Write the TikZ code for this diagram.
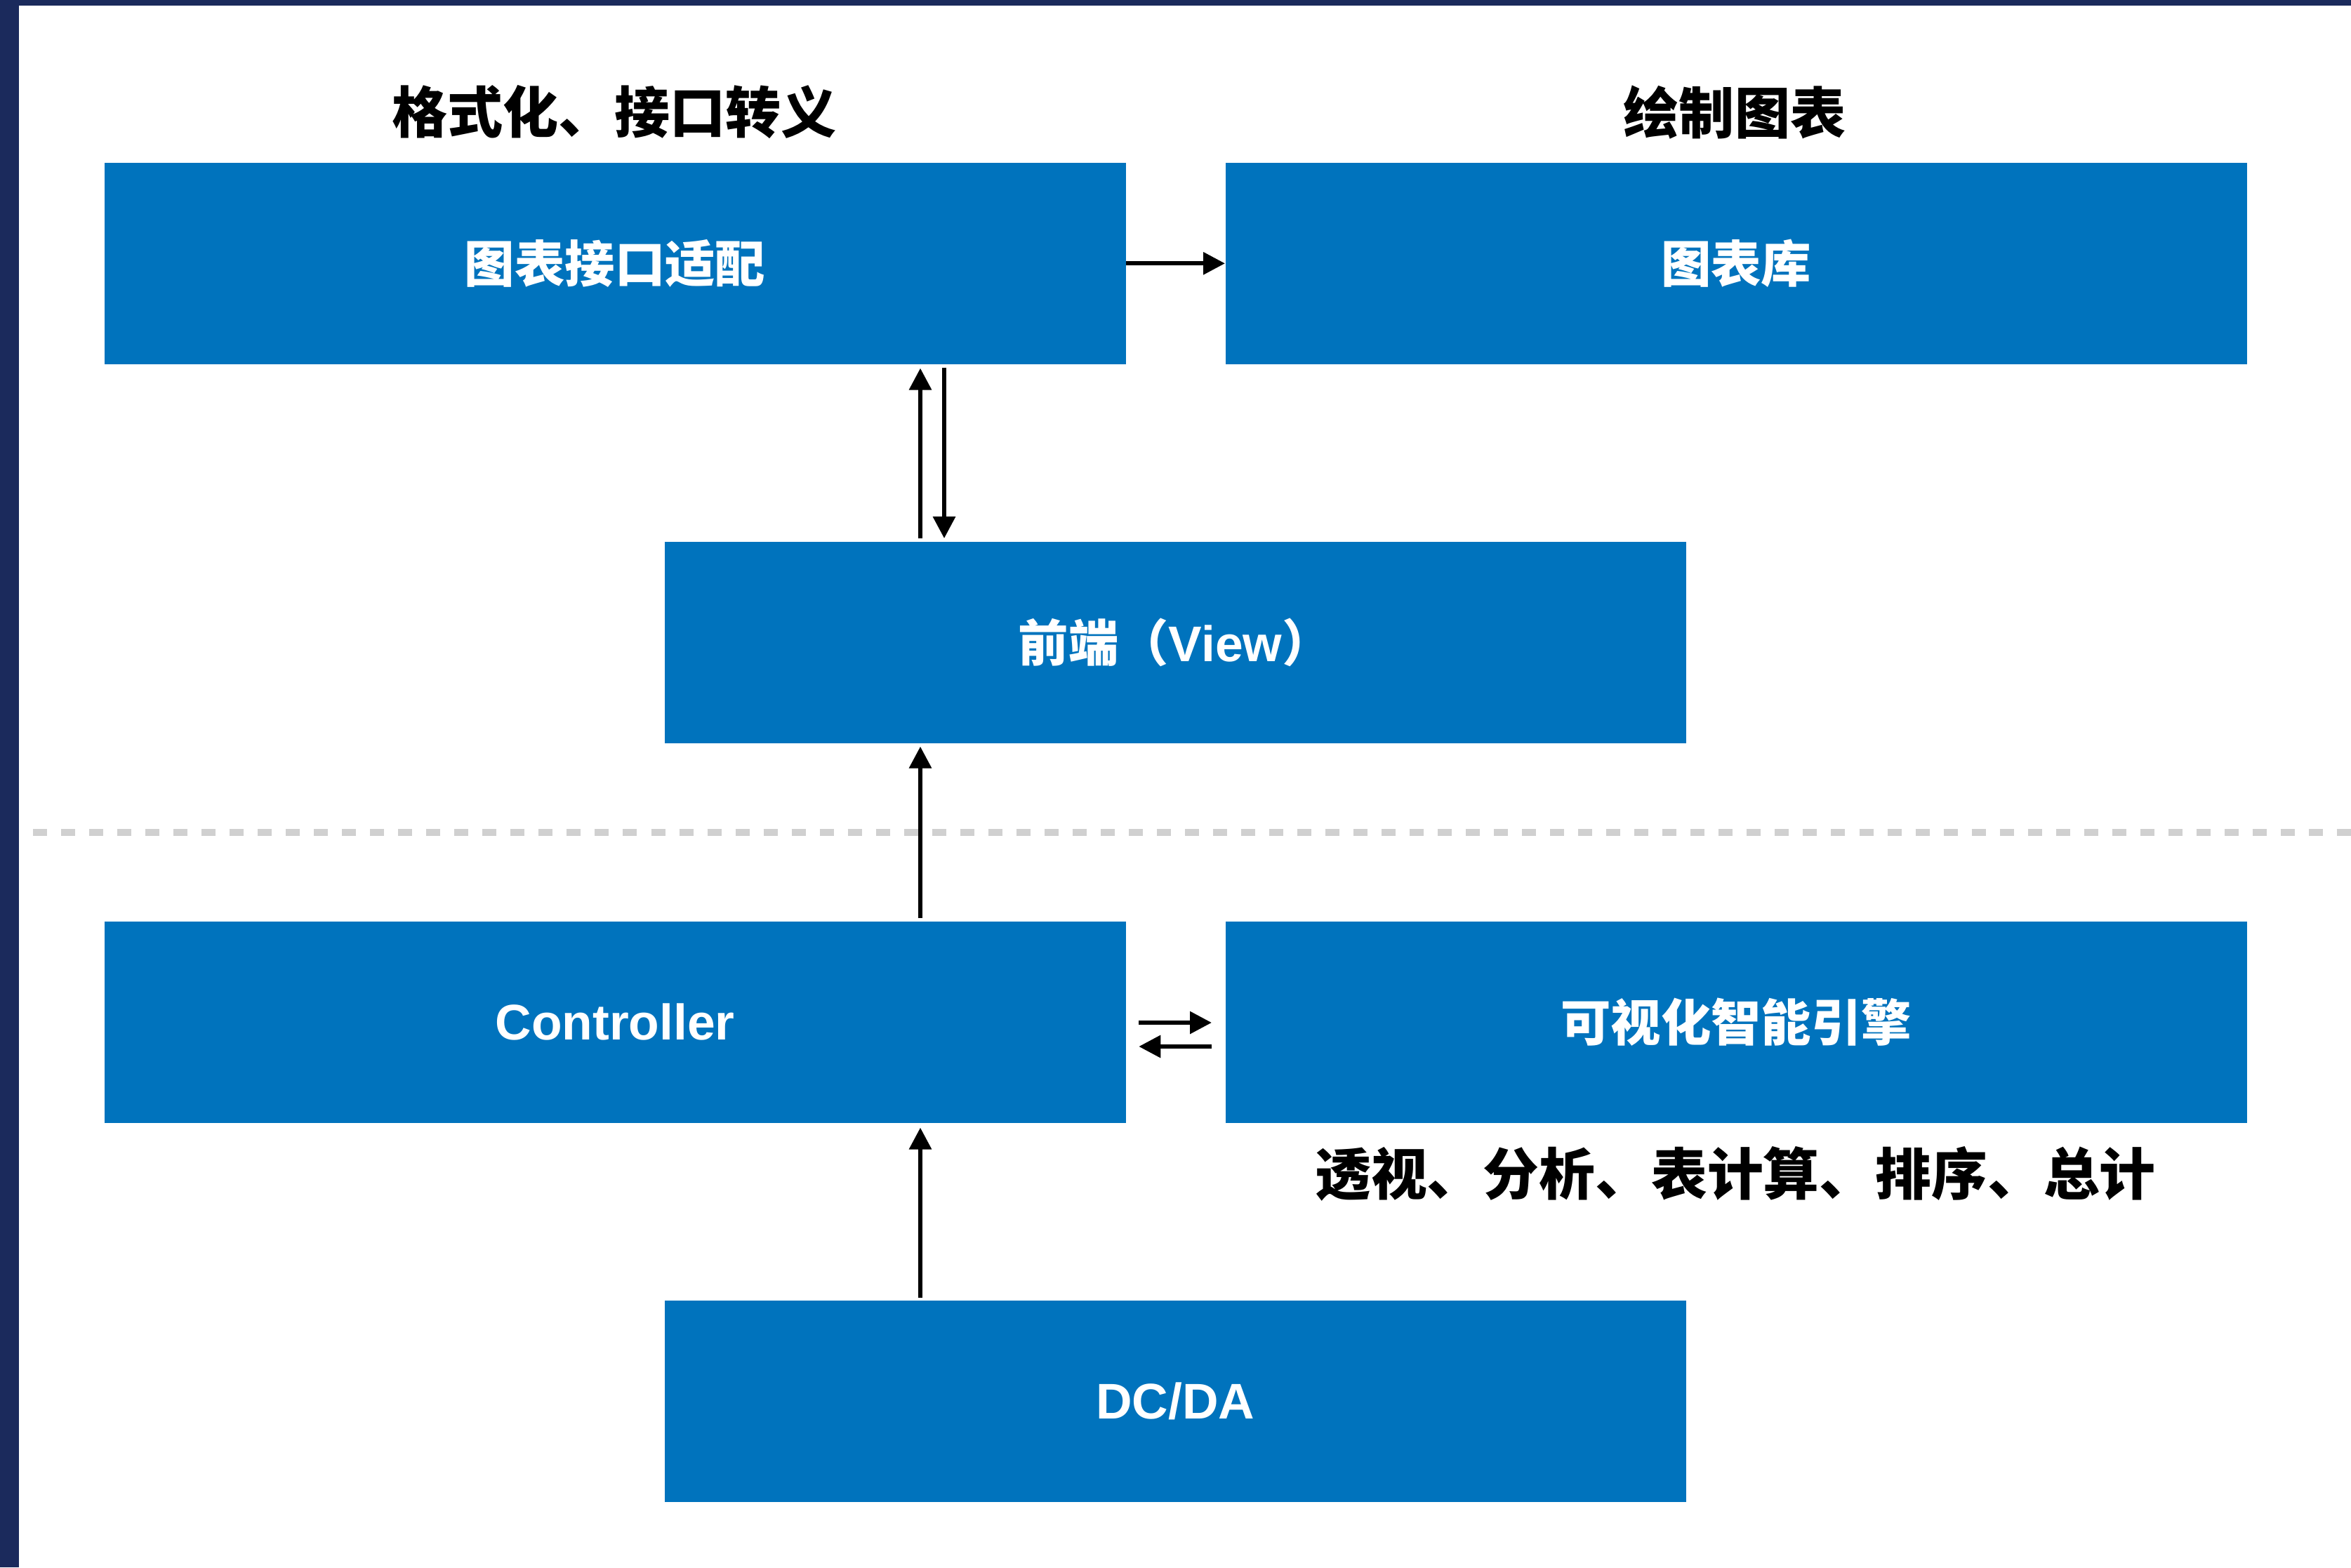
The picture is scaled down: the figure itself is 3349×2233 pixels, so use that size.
\documentclass[tikz,border=0pt]{standalone}
\usepackage{fontspec}
\setmainfont{Noto Sans CJK SC}
\newfontfamily\lat{Liberation Sans}
\usetikzlibrary{arrows.meta,calc}
\definecolor{navy}{RGB}{27,42,92}
\definecolor{boxblue}{RGB}{0,115,189}
\definecolor{dashgray}{RGB}{208,208,208}
\begin{document}
\begin{tikzpicture}[x=0.01cm,y=-0.01cm,
  blk/.style={fill=boxblue, draw=none, anchor=north west, minimum width=14.54cm, minimum height=2.87cm, inner sep=0pt, text=white, font=\bfseries\fontsize{20.3}{24}\selectfont},
  lbl/.style={inner sep=0pt, text=black, font=\bfseries\fontsize{22.5}{27}\selectfont},
  arr/.style={line width=1.75pt, -{Triangle[length=0.31cm,width=0.31cm]}}]
\useasboundingbox (0,0) rectangle (3349,2233);
\fill[white] (0,0) rectangle (3349,2233);
\fill[navy] (0,0) rectangle (27,2233);
\fill[navy] (0,0) rectangle (3349,8);

\draw[dashgray, line width=2.85pt, dash pattern=on 0.2cm off 0.2cm] (47,1186) -- (3349,1186);

\node[blk] (A) at (148,231) {图表接口适配};
\node[blk] (B) at (1745,231) {图表库};
\node[blk] (V) at (946,771) {前端（{\lat View}）};
\node[blk] (C) at (148,1312) {{\lat Controller}};
\node[blk] (E) at (1745,1312) {可视化智能引擎};
\node[blk] (D) at (946,1852) {{\lat DC/DA}};

\node[lbl] (t1) at (875,160) {格式化、接口转义};
\node[lbl] (t2) at (2471,160) {绘制图表};
\node[lbl, font=\bfseries\fontsize{22.7}{27}\selectfont] (t3) at (2472,1672) {透视、分析、表计算、排序、总计};

\draw[arr] (A.east) -- (B.west);
\draw[arr] ($(V.north west)+(365,-4)$) -- ($(A.south west)+(1163,5)$);
\draw[arr] ($(A.south west)+(1197,4)$) -- ($(V.north west)+(399,-4)$);
\draw[arr] ($(C.north west)+(1163,-4)$) -- ($(V.south west)+(365,4)$);
\draw[arr] ($(D.north west)+(365,-3)$) -- ($(C.south west)+(1163,6)$);
\draw[arr] ($(C.north east)+(18,145)$) -- ($(E.north west)+(-19,145)$);
\draw[arr] ($(E.north west)+(-19,179)$) -- ($(C.north east)+(18,179)$);
\end{tikzpicture}
\end{document}
